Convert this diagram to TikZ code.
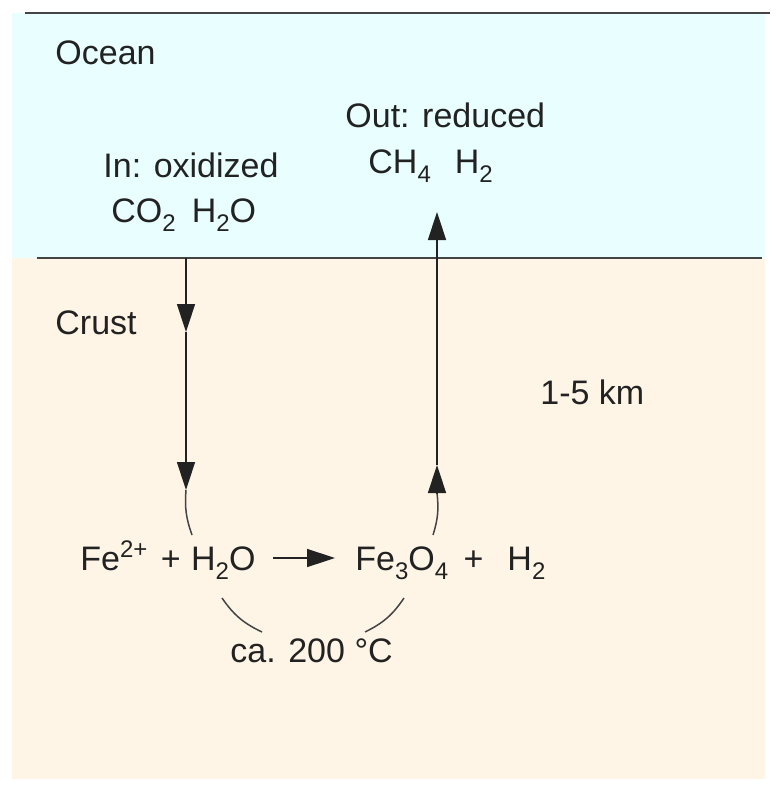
\documentclass[tikz,border=0pt]{standalone}
\usepackage{fontspec}
\setmainfont{Liberation Sans}
\usetikzlibrary{arrows.meta}
\definecolor{oceanblue}{HTML}{E8FEFF}
\definecolor{crustpeach}{HTML}{FFF5E6}
\definecolor{inkgray}{HTML}{222222}
\definecolor{linegray}{HTML}{444444}
\newcommand{\lowidx}[1]{\raisebox{-4.5pt}{\fontsize{12}{12}\selectfont #1}}
\newcommand{\highidx}[1]{\raisebox{6.5pt}{\fontsize{12}{12}\selectfont #1}}
\tikzset{
  lbl/.style={anchor=base west,inner sep=0pt,text=inkgray,font=\fontsize{17}{20}\selectfont},
  flow/.style={line width=0.75pt,inkgray,-{Triangle[length=14pt,width=9pt]}},
  bow/.style={line width=0.75pt,linegray}
}
\begin{document}
\begin{tikzpicture}[x=0.5pt,y=-0.5pt]
\useasboundingbox (0,0) rectangle (778,792);
\pgfmathsetmacro{\xin}{186}%
\pgfmathsetmacro{\xout}{437}%
\fill[oceanblue] (12,13) rectangle (765,258);
\fill[crustpeach] (12,258) rectangle (765,779);
\draw[linegray,line width=1pt] (25,13) -- (770,13);
\draw[linegray,line width=1pt] (37,258) -- (762,258);
% labels
\node[lbl] (ocean) at (55,65) {Ocean};
\node[lbl] (crust) at (55,334) {Crust};
\node[lbl] (depth) at (540,404) {1-5 km};
\node[lbl] (inlbl) at (103,177) {In: oxidized};
\node[lbl] (inmol) at (111,222) {CO\lowidx{2}\hspace{8pt}H\lowidx{2}O};
\node[lbl] (outlbl) at (345,127) {Out: reduced};
\node[lbl] (outmol) at (368,173) {CH\lowidx{4}\hspace{12pt}H\lowidx{2}};
\node[lbl] (educt) at (80,570) {Fe\highidx{2+}\hspace{2pt} +\hspace{0.5pt} H\lowidx{2}O};
\node[lbl] (product) at (355,570) {Fe\lowidx{3}O\lowidx{4}\hspace{3pt} +\hspace{12pt}H\lowidx{2}};
\node[lbl] (temp) at (230,662) {ca. 200 °C};
% flow path
\path (\xin,258) coordinate (A) (\xin,332) coordinate (B) (\xin,490) coordinate (C)
(192,535) coordinate (D) (433,535) coordinate (E) (\xout,493) coordinate (F)
(\xout,465) coordinate (G) (\xout,212) coordinate (H)
(273,558) coordinate (P) (335,558) coordinate (Q)
(222,598) coordinate (K) (262,632) coordinate (L) (365,632) coordinate (M) (404,598) coordinate (N);
\draw[flow] (A) -- (B);
\draw[flow] (B) -- (C);
\draw[bow] (C) to[bend right=12] (D);
\draw[bow] (E) to[bend right=12] (F);
\draw[flow] (F) -- (G);
\draw[flow] (G) -- (H);
\draw[flow] (P) -- (Q);
\draw[bow] (K) to[bend right=15] (L);
\draw[bow] (M) to[bend right=15] (N);
\end{tikzpicture}
\end{document}
